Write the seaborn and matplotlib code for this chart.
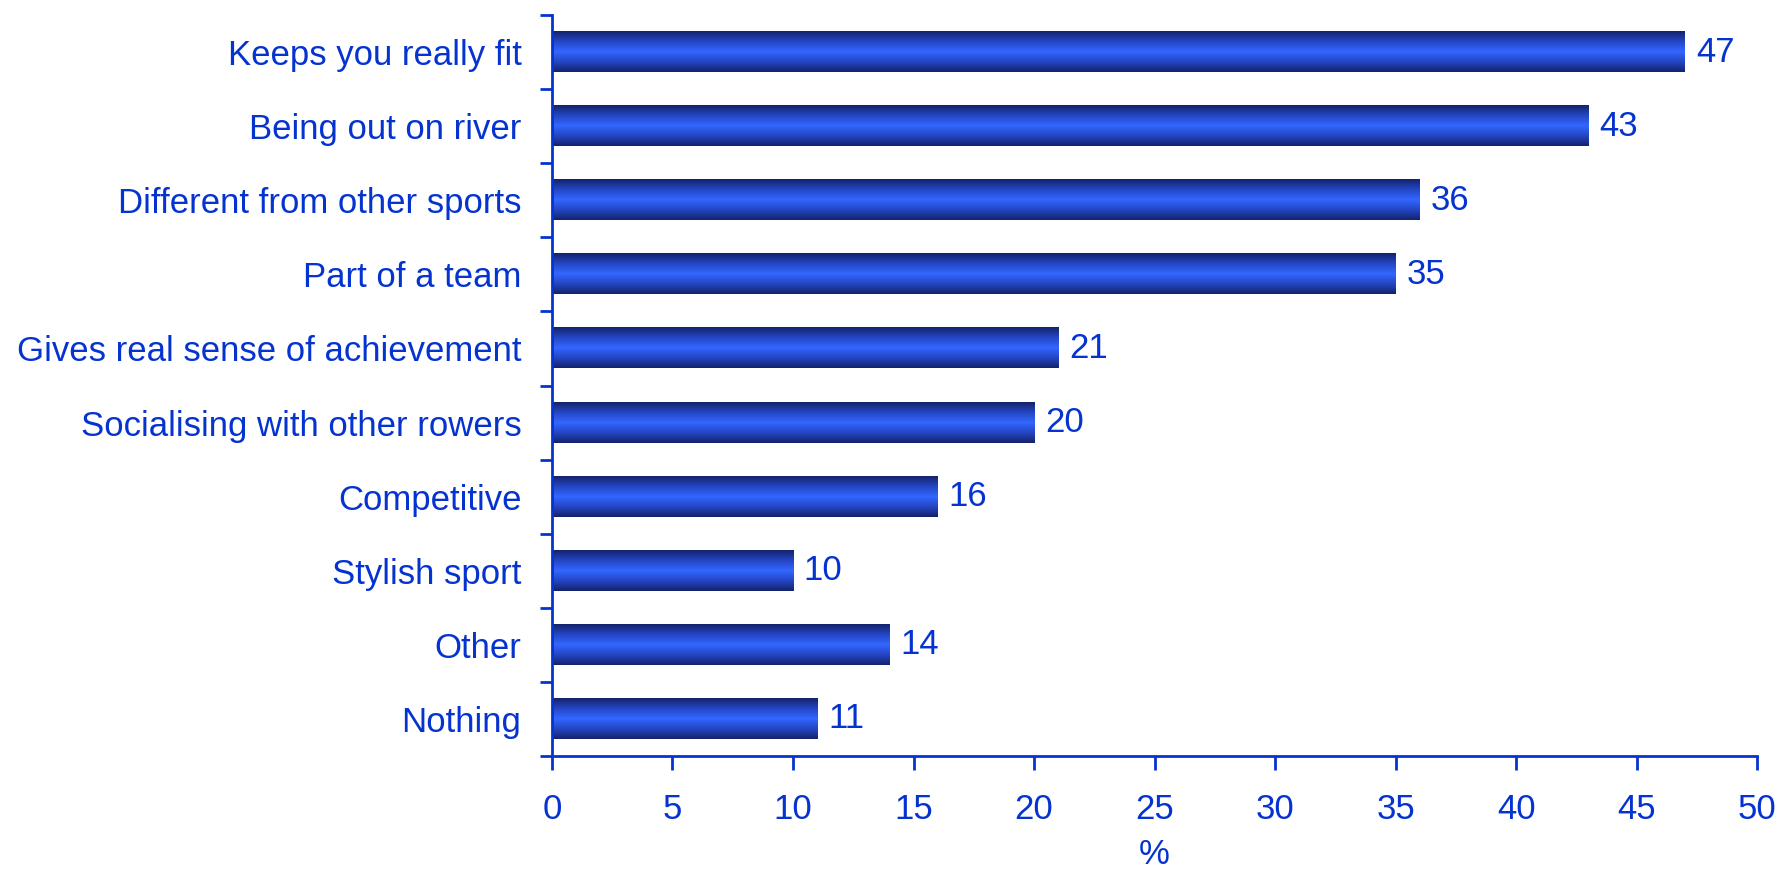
import numpy as np
import matplotlib
matplotlib.use('Agg')
import matplotlib.pyplot as plt
import seaborn as sns
from matplotlib.colors import LinearSegmentedColormap

# data
reasons = ['Keeps you really fit', 'Being out on river', 'Different from other sports',
           'Part of a team', 'Gives real sense of achievement', 'Socialising with other rowers',
           'Competitive', 'Stylish sport', 'Other', 'Nothing']
percent = [47, 43, 36, 35, 21, 20, 16, 10, 14, 11]
x_ticks = [0, 5, 10, 15, 20, 25, 30, 35, 40, 45, 50]

blue = '#0533D0'
fs = 25

sns.set_style('white')
plt.rcParams['font.family'] = ['Liberation Sans', 'DejaVu Sans']

fig = plt.figure(figsize=(17.84, 8.85), dpi=100)
ax = fig.add_axes([0.3094, 0.1458, 0.985 - 0.3094, 0.983 - 0.1458])

sns.barplot(x=percent, y=reasons, orient='h', width=0.54, color='#3366FF', ax=ax)

# gradient fill: dark navy edges, bright blue centre
cmap = LinearSegmentedColormap.from_list(
    'bar', [(0, '#14226A'), (0.25, '#2446C4'), (0.5, '#3366FF'), (0.75, '#2446C4'), (1, '#14226A')])
grad = np.linspace(0, 1, 256).reshape(-1, 1)
for p in ax.patches:
    x0, y0 = p.get_x(), p.get_y()
    w, h = p.get_width(), p.get_height()
    ax.imshow(grad, cmap=cmap, aspect='auto', extent=[x0, x0 + w, y0 + h, y0], zorder=2)
    p.set_visible(False)
    ax.text(x0 + w + 0.45, y0 + h / 2, f'{w:.0f}', va='center', ha='left',
            color=blue, fontsize=fs)

ax.set_xlim(0, 50)
ax.set_ylim(9.5, -0.5)
ax.set_xticks(x_ticks)
ax.set_xticklabels([str(t) for t in x_ticks])
ax.set_yticks(np.arange(-0.5, 10, 1), minor=True)
ax.tick_params(axis='y', which='both', left=True)
ax.tick_params(axis='x', which='major', bottom=True)
ax.tick_params(axis='y', which='major', length=0, pad=22, labelsize=fs, labelcolor=blue)
ax.tick_params(axis='y', which='minor', length=9, width=2, color=blue, direction='out')
ax.tick_params(axis='x', which='major', length=10, width=2, color=blue, direction='out',
               pad=17, labelsize=fs, labelcolor=blue)
ax.set_xlabel('%', color=blue, fontsize=fs, labelpad=8)
ax.set_ylabel('')

sns.despine(ax=ax)
for s in ['left', 'bottom']:
    ax.spines[s].set_color(blue)
    ax.spines[s].set_linewidth(2)

fig.savefig('out.png', dpi=100)
